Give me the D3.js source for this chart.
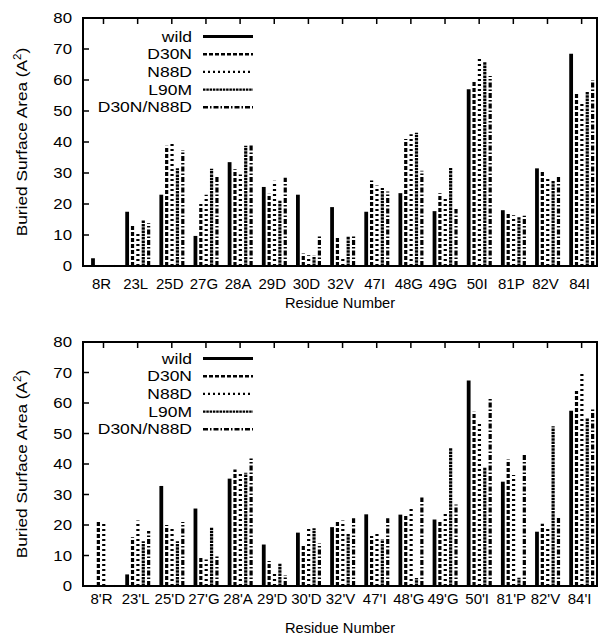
<!DOCTYPE html>
<head>
<style>
  body { margin: 0; background: #fff; }
  text { font-family: "Liberation Sans", Arial, sans-serif; fill: #000; }
</style>
</head>
<body>
<svg width="599" height="636"></svg>
<script src="https://d3js.org/d3.v7.min.js"></script>
<script>

var series = ["wild", "D30N", "N88D", "L90M", "D30N/N88D"];

var residuesTop = ["8R", "23L", "25D", "27G", "28A", "29D", "30D", "32V", "47I", "48G", "49G", "50I", "81P", "82V", "84I"];
var residuesBottom = ["8'R", "23'L", "25'D", "27'G", "28'A", "29'D", "30'D", "32'V", "47'I", "48'G", "49'G", "50'I", "81'P", "82'V", "84'I"];

var yTicks = [0, 10, 20, 30, 40, 50, 60, 70, 80];

// one row per series, one value per residue
var wildTop      = [2.5, 17.5, 23, 9.7, 33.5, 25.5, 23, 19, 17.5, 23.5, 17.7, 57, 18, 31.5, 68.5];
var d30nTop      = [0, 13.5, 38.8, 20, 31.2, 23.3, 4, 9, 27.6, 41, 23.5, 60, 17.4, 30.3, 55.8];
var n88dTop      = [0, 11, 40.3, 23, 29.5, 27.5, 3.5, 2.4, 26, 42.5, 21.8, 67, 16.4, 28.4, 53];
var l90mTop      = [0, 14.8, 31.5, 31.4, 38.8, 21.2, 3.3, 9.7, 25.2, 43, 31.6, 65.8, 15.9, 27.6, 56.3];
var d30nN88dTop  = [0, 13.8, 37.4, 28.8, 39, 28.5, 9.7, 9.7, 24, 30.7, 18.4, 61.3, 16.2, 28.7, 60];

var wildBot      = [0, 3.8, 32.8, 25.4, 35.2, 13.6, 17.5, 19.3, 23.5, 23.4, 21.8, 67.4, 34.2, 17.8, 57.5];
var d30nBot      = [21.3, 16, 20, 9.2, 38.2, 8.2, 13.8, 21.5, 16.4, 23.6, 21.5, 57.1, 41.5, 20.4, 63.9];
var n88dBot      = [20.8, 21.5, 19.3, 8.7, 36.8, 4.9, 19.4, 21.5, 17.8, 25.5, 23.7, 53.5, 36.4, 19.7, 69.5];
var l90mBot      = [0, 14.7, 14.7, 19.1, 37.1, 7.3, 18.9, 17.1, 15.3, 2.6, 45.3, 39, 2.7, 52.4, 55.1];
var d30nN88dBot  = [0, 18, 21, 9.8, 41.8, 3.6, 13.9, 22.2, 22.2, 29, 26.7, 61.5, 43.3, 22.4, 57.9];

var dashes = {
  "wild": null,
  "D30N": "4,2",
  "N88D": "2,3",
  "L90M": "2.5,0.8",
  "D30N/N88D": "5,2,1.5,2"
};

var svg = d3.select("svg");
var left = 83, right = 597;

var x = d3.scaleLinear().domain([-0.6, 14.45]).range([left, right]);
var off = d3.scalePoint().domain(series).range([-10.5, 11]);

function panel(top, bottom, labels, rows, labelY, titleY, legendTop) {
  var y = d3.scaleLinear().domain([0, 80]).range([bottom, top]);
  var g = svg.append("g");

  // bars (impulses)
  series.forEach(function(s, j) {
    g.selectAll(null)
      .data(rows[j])
      .enter().append("line")
        .attr("x1", function(d, i) { return x(i) + off(s); })
        .attr("x2", function(d, i) { return x(i) + off(s); })
        .attr("y1", y(0))
        .attr("y2", function(d) { return y(d); })
        .attr("stroke", "#000")
        .attr("stroke-width", s == "wild" ? 3.8 : 3.2)
        .attr("stroke-dasharray", dashes[s]);
  });

  // frame
  g.append("rect")
    .attr("x", left).attr("y", top)
    .attr("width", right - left).attr("height", bottom - top)
    .attr("fill", "none").attr("stroke", "#000").attr("stroke-width", 2);

  // y ticks
  g.selectAll(null).data(yTicks).enter().append("line")
    .attr("x1", left).attr("x2", left + 6)
    .attr("y1", function(d) { return y(d); })
    .attr("y2", function(d) { return y(d); })
    .attr("stroke", "#000").attr("stroke-width", 1.5);
  g.selectAll(null).data(yTicks).enter().append("text")
    .attr("transform", function(d) { return "translate(" + (left - 11) + "," + y(d) + ") scale(1.2,1)"; })
    .attr("dy", "0.36em")
    .attr("text-anchor", "end")
    .attr("font-size", 14)
    .text(function(d) { return d; });

  // top ticks at residues
  g.selectAll(null).data(labels).enter().append("line")
    .attr("x1", function(d, i) { return x(i); })
    .attr("x2", function(d, i) { return x(i); })
    .attr("y1", top).attr("y2", top + 6)
    .attr("stroke", "#000").attr("stroke-width", 1.5);

  // x labels
  g.selectAll(null).data(labels).enter().append("text")
    .attr("x", function(d, i) { return x(i) - 2; })
    .attr("y", labelY)
    .attr("text-anchor", "middle")
    .attr("font-size", 15)
    .text(function(d) { return d; });

  g.append("text")
    .attr("transform", "translate(" + ((left + right) / 2) + "," + titleY + ") scale(1.05,1)")
    .attr("text-anchor", "middle")
    .attr("font-size", 14)
    .text("Residue Number");

  var yl = g.append("text")
    .attr("transform", "translate(27," + ((top + bottom) / 2) + ") rotate(-90) scale(1.15,1)")
    .attr("text-anchor", "middle")
    .attr("font-size", 15);
  yl.append("tspan").text("Buried Surface Area (A");
  yl.append("tspan").attr("font-size", 10).attr("dy", -6).text("2");
  yl.append("tspan").attr("dy", 6).text(")");

  // legend
  var leg = g.selectAll(null).data(series).enter().append("g")
    .attr("transform", function(d, i) { return "translate(0," + (legendTop + i * 17.7) + ")"; });
  leg.append("text")
    .attr("transform", "translate(192,0) scale(1.25,1)")
    .attr("dy", "0.36em")
    .attr("text-anchor", "end")
    .attr("font-size", 14)
    .text(function(d) { return d; });
  leg.append("line")
    .attr("x1", 203).attr("x2", 253)
    .attr("stroke", "#000")
    .attr("stroke-width", function(d) { return d == "wild" ? 3 : 2.4; })
    .attr("stroke-dasharray", function(d) { return dashes[d]; });
}

panel(18, 266, residuesTop, [wildTop, d30nTop, n88dTop, l90mTop, d30nN88dTop], 289, 308, 36.5);
panel(342, 586, residuesBottom, [wildBot, d30nBot, n88dBot, l90mBot, d30nN88dBot], 604, 633, 358.5);

</script>
</body>
